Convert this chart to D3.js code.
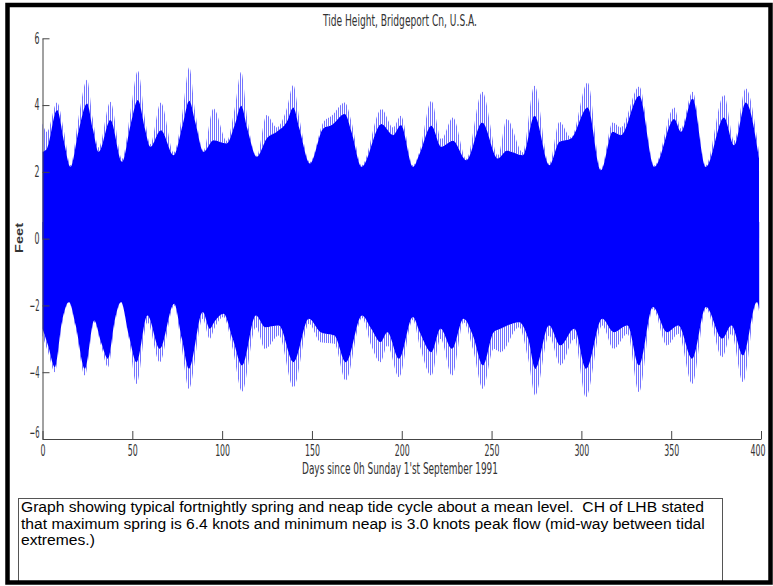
<!DOCTYPE html>
<html>
<head>
<meta charset="utf-8">
<script src="https://cdn.jsdelivr.net/npm/d3@7"></script>
<style>
  body { margin: 0; background: #fff; }
  svg { display: block; }
</style>
</head>
<body>
<div class="chart"></div>
<script>
// envelope of the tide trace (feet)
var upDays  = [0, 2.5, 8.1, 12, 15.6, 20, 24.8, 28, 31.3, 37.8, 44.3, 49, 53.1, 57, 60, 65.9, 73, 78, 81.7, 85, 89.6, 95.2, 102.6, 107, 110.6, 114, 119.3, 124.8, 130.4, 136, 139.6, 143, 148.9, 156.3, 161, 168.3, 172, 177.6, 188.7, 195.2, 199.5, 206.3, 210, 216.5, 222, 228.5, 235.9, 244.8, 253.5, 258.5, 267.4, 273.9, 282.2, 287.8, 294.3, 303.5, 310.9, 317.4, 322, 332.2, 340.6, 351.7, 355.4, 361.9, 369.3, 379.4, 385, 391.5, 398.9];
var upOuter = [3.45, 3.2, 4.08, 3.2, 2.2, 3.6, 4.76, 3.6, 2.73, 4.1, 2.39, 3.8, 5.03, 3.6, 2.83, 4.08, 2.58, 3.8, 5.13, 3.8, 2.63, 3.9, 2.93, 3.9, 5.0, 3.6, 2.48, 3.7, 3.33, 3.9, 4.6, 3.6, 2.29, 3.48, 3.68, 4.08, 3.5, 2.19, 3.88, 3.33, 3.68, 2.19, 2.63, 4.13, 2.98, 3.63, 2.39, 4.4, 2.49, 3.58, 2.58, 4.58, 2.24, 3.5, 3.03, 4.68, 2.09, 3.48, 3.33, 4.56, 2.19, 3.93, 3.3, 4.4, 2.19, 4.3, 2.93, 4.5, 2.58];
var upInner = [2.6, 2.7, 3.85, 2.9, 2.15, 3.2, 4.05, 3.3, 2.6, 3.55, 2.3, 3.4, 4.15, 3.3, 2.75, 3.25, 2.5, 3.4, 4.13, 3.5, 2.6, 2.95, 2.85, 3.4, 3.98, 3.3, 2.45, 3.0, 3.2, 3.5, 3.93, 3.3, 2.25, 3.3, 3.4, 3.73, 3.2, 2.15, 3.43, 3.1, 3.4, 2.15, 2.55, 3.38, 2.75, 2.93, 2.35, 3.48, 2.4, 2.63, 2.5, 3.68, 2.2, 2.9, 3.0, 3.93, 2.05, 3.2, 3.1, 4.28, 2.15, 3.58, 3.2, 4.2, 2.15, 3.63, 2.8, 4.08, 2.4];

var loDays  = [0, 3.1, 6.9, 10.8, 14.7, 18.5, 23.6, 28.8, 32.6, 36.5, 40.4, 43.7, 48.1, 52.4, 58.4, 65.3, 73.3, 77.6, 81.5, 89.2, 93.1, 95.6, 100.8, 105.9, 111.1, 118.8, 123.9, 131.6, 139.8, 148.3, 154.8, 162.5, 168.9, 177.9, 183, 188.2, 192, 198.5, 206.2, 210, 216.5, 221.6, 228, 234.4, 239.6, 245.2, 251.2, 255, 265.3, 270.4, 274.3, 282, 288.4, 296.1, 302.6, 311.6, 318, 325.7, 332.1, 339.8, 347.6, 354, 361.7, 369.4, 378.4, 383.5, 390, 397.7, 399];
var loOuter = [-2.9, -3.4, -4.0, -2.6, -1.91, -2.7, -4.1, -2.5, -3.2, -3.85, -2.5, -1.91, -3.0, -4.35, -2.5, -3.7, -2.0, -3.3, -4.5, -2.4, -3.0, -2.7, -2.35, -3.3, -4.58, -2.65, -3.3, -2.9, -4.45, -2.55, -3.1, -3.15, -4.25, -2.38, -3.2, -3.7, -3.2, -4.15, -2.43, -3.2, -4.1, -3.0, -4.1, -2.5, -3.3, -4.5, -3.3, -3.4, -2.65, -3.6, -4.7, -2.9, -3.79, -3.0, -4.75, -2.6, -3.3, -2.85, -4.6, -2.1, -3.2, -2.85, -4.35, -2.1, -3.55, -2.85, -4.3, -1.91, -2.2];
var loInner = [-2.7, -3.2, -3.85, -2.5, -1.9, -2.6, -3.9, -2.45, -3.1, -3.6, -2.4, -1.9, -2.9, -3.7, -2.3, -3.3, -1.95, -3.0, -3.9, -2.2, -2.7, -2.5, -2.25, -3.0, -3.8, -2.3, -2.65, -2.6, -3.7, -2.4, -2.8, -2.9, -3.7, -2.3, -2.7, -3.1, -2.8, -3.6, -2.35, -2.8, -3.4, -2.7, -3.3, -2.4, -2.9, -3.8, -2.8, -2.7, -2.5, -3.0, -3.9, -2.6, -3.2, -2.7, -3.9, -2.4, -2.8, -2.6, -3.8, -2.05, -2.8, -2.6, -3.6, -2.05, -3.0, -2.6, -3.5, -1.9, -2.1];

var xTicks = [0, 50, 100, 150, 200, 250, 300, 350, 400];
var yTicks = [-6, -4, -2, 0, 2, 4, 6];

var noteLines = [
    `Graph showing typical fortnightly spring and neap tide cycle about a mean level.  CH of LHB stated`,
    `that maximum spring is 6.4 knots and minimum neap is 3.0 knots peak flow (mid-way between tidal`,
    `extremes.)`
];

var fullWidth = 773;
var fullHeight = 586;
var narrow = `"Liberation Sans Narrow", "Arial Narrow", "DejaVu Sans Condensed", sans-serif`;

var svg = d3.select(`.chart`)
    .append(`svg`)
    .attr(`width`, fullWidth)
    .attr(`height`, fullHeight)
    .attr(`viewBox`, `0 0 ${fullWidth} ${fullHeight}`);

// vertical hatch for the light comb at the envelope edges
svg.append(`defs`)
    .append(`pattern`)
    .attr(`id`, `comb`)
    .attr(`patternUnits`, `userSpaceOnUse`)
    .attr(`width`, 2)
    .attr(`height`, 4)
    .append(`rect`)
    .attr(`width`, 1)
    .attr(`height`, 4)
    .style(`fill`, `#7474ff`);

var xScale = d3.scaleLinear().domain([0, 400]).range([42.5, 761]);
var yScale = d3.scaleLinear().domain([-6, 6]).range([439, 38.3]);

var up = upDays.map((d, i) => ({day: d, outer: upOuter[i], inner: upInner[i]}));
var lo = loDays.map((d, i) => ({day: d, outer: loOuter[i], inner: loInner[i]}));

var curve = d3.curveMonotoneX;
var plot = svg.append(`g`);

// light comb bands
plot.append(`path`)
    .datum(up)
    .attr(`d`, d3.area().curve(curve).x(d => xScale(d.day)).y0(d => yScale(d.inner)).y1(d => yScale(d.outer)))
    .style(`fill`, `url(#comb)`);
plot.append(`path`)
    .datum(lo)
    .attr(`d`, d3.area().curve(curve).x(d => xScale(d.day)).y0(d => yScale(d.inner)).y1(d => yScale(d.outer)))
    .style(`fill`, `url(#comb)`);

// dense core of the trace
plot.append(`path`)
    .datum(up)
    .attr(`d`, d3.area().curve(curve).x(d => xScale(d.day)).y0(yScale(0)).y1(d => yScale(d.inner)))
    .style(`fill`, `#0000ff`);
plot.append(`path`)
    .datum(lo)
    .attr(`d`, d3.area().curve(curve).x(d => xScale(d.day)).y0(yScale(0.5)).y1(d => yScale(d.inner)))
    .style(`fill`, `#0000ff`);

// axes, ticks pointing inward
var xAxis = d3.axisBottom(xScale).tickValues(xTicks).tickSizeInner(-8).tickSizeOuter(0).tickPadding(6);
var yAxis = d3.axisLeft(yScale).tickValues(yTicks).tickSizeInner(-7).tickSizeOuter(0).tickPadding(3);

var gx = svg.append(`g`)
    .attr(`transform`, `translate(0, ${yScale(-6)})`)
    .call(xAxis);
var gy = svg.append(`g`)
    .attr(`transform`, `translate(${xScale(0)}, 0)`)
    .call(yAxis);

[gx, gy].forEach(g => {
    g.select(`.domain`).style(`stroke`, `#444`);
    g.selectAll(`.tick line`).style(`stroke`, `#444`);
    g.selectAll(`.tick text`)
        .style(`font-family`, narrow)
        .style(`font-size`, `15px`)
        .style(`fill`, `#333`)
        .attr(`lengthAdjust`, `spacingAndGlyphs`)
        .attr(`textLength`, d => String(d).length * 5);
});
gy.selectAll(`.tick text`).filter(d => d === -6).attr(`dy`, `-0.1em`);
gx.selectAll(`.tick text`).filter(d => d === 400).attr(`x`, -3.5);

svg.append(`text`)
    .attr(`x`, 400)
    .attr(`y`, 26)
    .style(`text-anchor`, `middle`)
    .style(`font-family`, narrow)
    .style(`font-size`, `15px`)
    .style(`fill`, `#333`)
    .attr(`lengthAdjust`, `spacingAndGlyphs`)
    .attr(`textLength`, 154)
    .text(`Tide Height, Bridgeport Cn, U.S.A.`);

svg.append(`text`)
    .attr(`x`, 400)
    .attr(`y`, 474)
    .style(`text-anchor`, `middle`)
    .style(`font-family`, narrow)
    .style(`font-size`, `15px`)
    .style(`fill`, `#333`)
    .attr(`lengthAdjust`, `spacingAndGlyphs`)
    .attr(`textLength`, 196)
    .text(`Days since 0h Sunday 1'st September 1991`);

svg.append(`text`)
    .attr(`transform`, `translate(23, 238) rotate(-90)`)
    .style(`text-anchor`, `middle`)
    .style(`font-family`, `"Liberation Sans", Arial, sans-serif`)
    .style(`font-size`, `11px`)
    .style(`font-weight`, `bold`)
    .style(`fill`, `#333`)
    .attr(`lengthAdjust`, `spacingAndGlyphs`)
    .attr(`textLength`, 30)
    .text(`Feet`);

// note box
svg.append(`rect`)
    .attr(`x`, 18.5)
    .attr(`y`, 498.5)
    .attr(`width`, 704)
    .attr(`height`, 84)
    .style(`fill`, `#fff`)
    .style(`stroke`, `#555`)
    .style(`stroke-width`, 1);

var note = svg.append(`g`)
    .selectAll(`text`)
    .data(noteLines)
    .enter()
    .append(`text`)
    .attr(`x`, 21)
    .attr(`y`, (d, i) => 512 + i * 16.5)
    .attr(`xml:space`, `preserve`)
    .style(`white-space`, `pre`)
    .style(`font-family`, `"Liberation Sans", Arial, sans-serif`)
    .style(`font-size`, `14px`)
    .style(`fill`, `#000`)
    .text(d => d);

// first line runs to x = 704 in the picture; stretch all lines alike
var stretch = 683 / note.nodes()[0].getComputedTextLength();
note.each(function() {
    d3.select(this)
        .attr(`lengthAdjust`, `spacingAndGlyphs`)
        .attr(`textLength`, this.getComputedTextLength() * stretch);
});

// outer frame
svg.append(`rect`)
    .attr(`x`, 7.5)
    .attr(`y`, 5)
    .attr(`width`, 763)
    .attr(`height`, 577.5)
    .style(`fill`, `none`)
    .style(`stroke`, `#000`)
    .style(`stroke-width`, 4.5);
</script>
</body>
</html>
